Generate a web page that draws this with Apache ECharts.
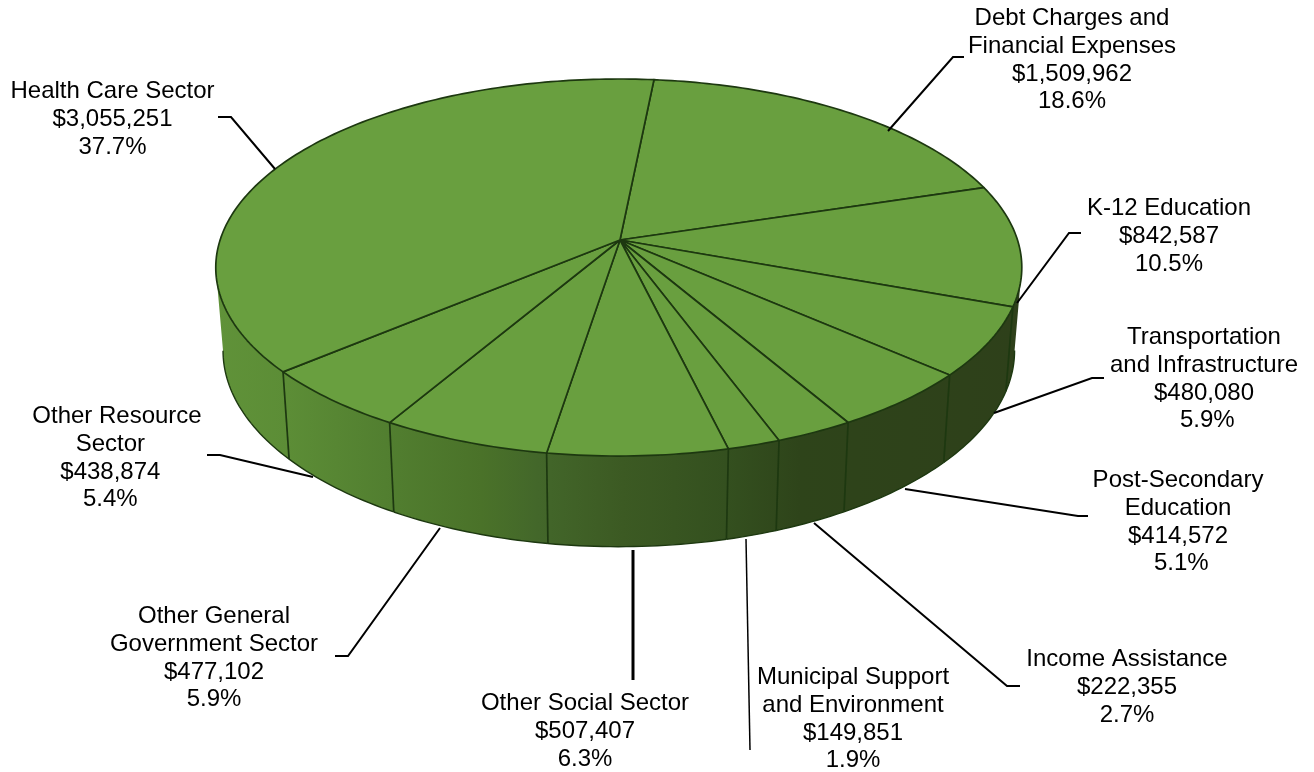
<!DOCTYPE html>
<html>
<head>
<meta charset="utf-8">
<style>html,body{margin:0;padding:0;background:#fff}#chart{width:1314px;height:772px}</style>
<script src="https://cdn.jsdelivr.net/npm/echarts@6/dist/echarts.min.js"></script>
</head>
<body>
<div id="chart"></div>
<script>
// Expenses by sector, clockwise from the Debt Charges slice
const sectors = ['Debt Charges and Financial Expenses','K-12 Education','Transportation and Infrastructure','Post-Secondary Education','Income Assistance','Municipal Support and Environment','Other Social Sector','Other General Government Sector','Other Resource Sector','Health Care Sector'];
const amounts = [1509962, 842587, 480080, 414572, 222355, 149851, 507407, 477102, 438874, 3055251];
const labelLines = [
  ['Debt Charges and','Financial Expenses','$1,509,962','18.6%'],
  ['K-12 Education','$842,587','10.5%'],
  ['Transportation','and Infrastructure','$480,080',' 5.9%'],
  ['Post-Secondary','Education','$414,572',' 5.1%'],
  ['Income Assistance','$222,355','2.7%'],
  ['Municipal Support','and Environment','$149,851','1.9%'],
  ['Other Social Sector','$507,407','6.3%'],
  ['Other General','Government Sector','$477,102','5.9%'],
  ['Other Resource','Sector  ','$438,874  ','5.4%  '],
  ['Health Care Sector','$3,055,251','37.7%']
];
// Label anchor: centre x, first row y
const labelAnchors = [[1072,18.7],[1169,208.7],[1204,337.7],[1178,480.7],[1127,659.7],[853,677.7],[585,703.7],[214,616.7],[117,416.7],[112.5,91.7]];
// Leader lines run from the disc to the label
const leaders = [
  [[888,131],[953,57],[964,57]],
  [[1017,303],[1069,233],[1081,233]],
  [[994,413],[1092,378],[1104,378]],
  [[905,489],[1078,516],[1088,516]],
  [[814,523],[1007,686],[1020,686]],
  [[746,539],[750,750]],
  [[633,550],[633,680]],
  [[440,528],[348,656],[335,656]],
  [[313,477],[220,455],[207,455]],
  [[275,169],[231,117],[218,117]]
];
const leaderWidths = [2,2,2,2,2,1.5,3,2,2,2];

// Perspective disc: centre of the pie, projected radii, foreshortening, rim offset
const disc = {cx:620, cy:240, a:398.7, b:184.5, p:0.146, q:-0.003, startDeg:5.6, rimX:0.982, rimY:1.04, rimDrop:82};
const total = amounts.reduce((s,v)=>s+v,0);
const cumulative = amounts.reduce((acc,v)=>{acc.push(acc[acc.length-1]+v);return acc;},[0]);
const angleOf = share => disc.startDeg + share/total*360;

function topPoint(deg){
  const t = deg*Math.PI/180, x = Math.sin(t), y = -Math.cos(t), w = 1-disc.p*y-disc.q*x;
  return [disc.cx+disc.a*x/w, disc.cy+disc.b*y/w];
}
function rimPoint(deg){
  const q = topPoint(deg);
  return [disc.cx+disc.rimX*(q[0]-disc.cx), disc.cy+disc.rimDrop+disc.rimY*(q[1]-disc.cy)];
}
function arc(fn,a0,a1){
  const n = Math.max(2,Math.ceil(Math.abs(a1-a0))), pts=[];
  for(let i=0;i<=n;i++) pts.push(fn(a0+(a1-a0)*i/n));
  return pts;
}

const edge = '#1d3810';
const topFill = '#699f3f';
const wallFill = new echarts.graphic.LinearGradient(216,0,1020,0,[
  {offset:0,color:'#609239'},{offset:0.09,color:'#5c8d36'},{offset:0.21,color:'#527f30'},
  {offset:0.33,color:'#4a7229'},{offset:0.40,color:'#43672a'},{offset:0.506,color:'#3c5a23'},
  {offset:0.634,color:'#34501f'},{offset:0.726,color:'#2e441a'},{offset:1,color:'#2e401a'}
],true);

// Side wall of a slice: only the stretch that faces the viewer is drawn
const visFrom = Math.acos(-disc.p)*180/Math.PI, visTo = 360-visFrom;
function renderWall(params,api){
  const i = params.dataIndex;
  const a0 = Math.max(angleOf(cumulative[i]),visFrom);
  const a1 = Math.min(angleOf(cumulative[i]+api.value(0)),visTo);
  if(a1<=a0) return {type:'group',children:[]};
  const topArc = arc(topPoint,a0,a1), rimArc = arc(rimPoint,a0,a1);
  const children = [{type:'polygon',shape:{points:topArc.concat(rimArc.slice().reverse())},style:{fill:wallFill},silent:true},
    {type:'polyline',shape:{points:rimArc},style:{fill:null,stroke:edge,lineWidth:1.4},silent:true}];
  if(a0>visFrom) children.push({type:'polyline',shape:{points:[topPoint(a0),rimPoint(a0)]},style:{fill:null,stroke:edge,lineWidth:1.7},silent:true});
  return {type:'group',children};
}
// Top face of a slice
function renderTop(params,api){
  const i = params.dataIndex;
  const a0 = angleOf(cumulative[i]), a1 = a0+api.value(0)/total*360;
  const pts = [[disc.cx,disc.cy]].concat(arc(topPoint,a0,a1));
  return {type:'polygon',shape:{points:pts},style:{fill:topFill,stroke:edge,lineWidth:1.7,lineJoin:'round'},silent:true};
}
// Leader line and stacked text for a slice
function renderLabel(params){
  const i = params.dataIndex, anchor = labelAnchors[i];
  const children = [{type:'polyline',shape:{points:leaders[i]},style:{fill:null,stroke:'#000',lineWidth:leaderWidths[i]},silent:true}];
  labelLines[i].forEach((line,k)=>children.push({type:'text',silent:true,style:{
    text:line,x:anchor[0],y:anchor[1]+k*27.6,align:'center',verticalAlign:'middle',fill:'#000',
    font:'24px "Liberation Sans", Arial, sans-serif'}}));
  return {type:'group',children};
}

const seriesData = amounts.map((v,i)=>({name:sectors[i],value:[v]}));
const chart = echarts.init(document.getElementById('chart'));
chart.setOption({
  backgroundColor:'#fff',
  animation:false,
  series:[
    {type:'custom',coordinateSystem:'none',renderItem:renderWall,data:seriesData,z:1},
    {type:'custom',coordinateSystem:'none',renderItem:renderTop,data:seriesData,z:2},
    {type:'custom',coordinateSystem:'none',renderItem:renderLabel,data:seriesData,z:3}
  ]
});
</script>
</body>
</html>
